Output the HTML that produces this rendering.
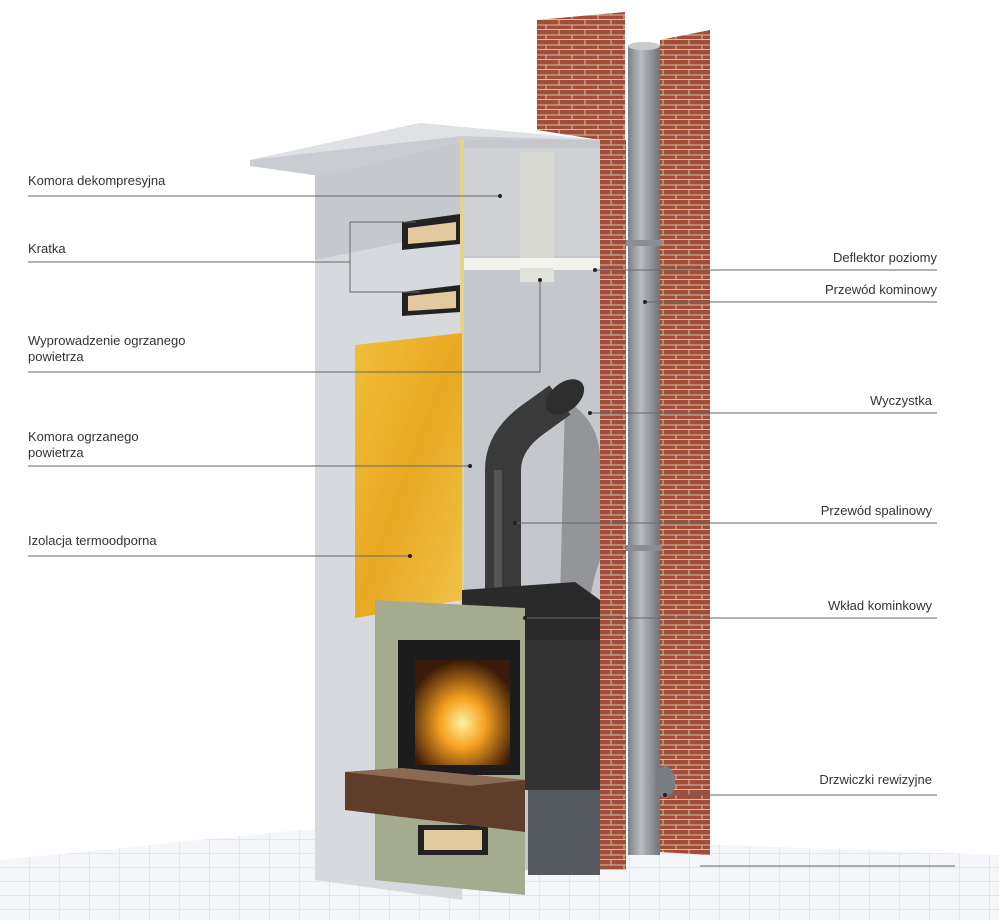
<!DOCTYPE html>
<html><head><meta charset="utf-8"><style>
body{margin:0;background:#fff;}
svg{display:block}
text{font-family:"Liberation Sans",sans-serif;font-size:13px;fill:#333}
</style></head><body>
<svg width="999" height="920" viewBox="0 0 999 920" xmlns="http://www.w3.org/2000/svg">
<defs>
<pattern id="brick" width="26" height="10" patternUnits="userSpaceOnUse">
<rect width="26" height="10" fill="#a04e38"/>
<path d="M0 9.5H26M13 0V5M0 5H26M0 5V10M26 5V10" stroke="#d4bfae" stroke-width="1" fill="none"/>
</pattern>
<pattern id="tile" width="30" height="14" patternUnits="userSpaceOnUse">
<rect width="30" height="14" fill="#f4f6f9"/>
<path d="M0 13.5H30M29.5 0V14" stroke="#e2e7ed" fill="none"/>
</pattern>
<linearGradient id="pipe" x1="0" x2="1"><stop offset="0" stop-color="#7c8185"/><stop offset=".4" stop-color="#b8bcc0"/><stop offset="1" stop-color="#6f7377"/></linearGradient>
<linearGradient id="yel" x1="0" y1="0" x2="1" y2="1"><stop offset="0" stop-color="#f2bf3a"/><stop offset=".5" stop-color="#e8a822"/><stop offset="1" stop-color="#f0c34a"/></linearGradient>
<radialGradient id="fire" cx=".5" cy=".6" r=".6"><stop offset="0" stop-color="#fff2a0"/><stop offset=".4" stop-color="#f5a020"/><stop offset="1" stop-color="#3a1a08"/></radialGradient>
</defs>
<polygon points="0,860 300,830 999,855 999,920 0,920" fill="url(#tile)"/>
<polygon points="315,170 462,142 462,900 315,880" fill="#d6d9de"/>
<polygon points="315,170 462,142 462,230 315,260" fill="#b9bcc2" opacity=".6"/>
<polygon points="250,160 420,123 600,140 600,152 462,142 320,176 250,166" fill="#c9ccd1"/>
<polygon points="250,160 420,123 600,140 462,136" fill="#dfe1e5"/>
<rect x="460" y="140" width="145" height="730" fill="#c4c7cb"/>
<rect x="462" y="148" width="140" height="108" fill="#cfd1d4"/>
<rect x="460" y="258" width="145" height="12" fill="#f4f4ee"/>
<rect x="460" y="140" width="4" height="730" fill="#e8d28a"/>
<path d="M565 400 Q600 420 600 460 L600 560 Q585 600 590 640 L560 600 Z" fill="#4a4a4a" opacity=".4"/>
<rect x="520" y="152" width="34" height="106" fill="#d9d9d4"/>
<rect x="520" y="268" width="34" height="14" fill="#e2e2dc"/>
<g><polygon points="402,222 460,214 460,244 402,250" fill="#222"/><polygon points="408,228 456,222 456,240 408,244" fill="#e3c99e"/></g>
<g><polygon points="402,292 460,285 460,312 402,316" fill="#222"/><polygon points="408,296 456,291 456,308 408,311" fill="#e3c99e"/></g>
<polygon points="355,345 462,333 462,600 355,618" fill="url(#yel)"/>
<polygon points="537,20 625,12 625,140 600,140 537,130" fill="url(#brick)"/>
<rect x="600" y="140" width="26" height="730" fill="url(#brick)"/>
<polygon points="660,40 710,30 710,855 660,852" fill="url(#brick)"/>
<rect x="628" y="45" width="32" height="810" fill="url(#pipe)"/>
<ellipse cx="644" cy="46" rx="16" ry="4" fill="#c7cbce"/>
<rect x="626" y="240" width="36" height="6" fill="#8a8e92"/>
<rect x="626" y="545" width="36" height="6" fill="#8a8e92"/>
<ellipse cx="665" cy="782" rx="10" ry="16" fill="#7a7e82"/>
<!-- stove pipe -->
<path d="M503 595 V470 Q503 440 535 418 L560 400" stroke="#3a3a3a" stroke-width="36" fill="none"/>
<path d="M498 595 V470" stroke="#555" stroke-width="8" fill="none"/>
<ellipse cx="565" cy="397" rx="22" ry="14" transform="rotate(-40 565 397)" fill="#2e2e2e"/>
<polygon points="462,590 575,582 600,600 600,790 462,790" fill="#2a2a2a"/>
<rect x="520" y="640" width="80" height="150" fill="#333"/>
<polygon points="375,600 525,608 525,895 375,880" fill="#a5ab8e"/>
<rect x="398" y="640" width="122" height="135" fill="#1c1c1c"/>
<rect x="415" y="660" width="95" height="105" fill="url(#fire)"/>
<rect x="418" y="825" width="70" height="30" fill="#222"/>
<rect x="424" y="830" width="58" height="20" fill="#e3c99e"/>
<polygon points="345,772 402,768 525,780 525,832 345,810" fill="#5e3d2a"/>
<polygon points="345,772 402,768 525,780 470,786" fill="#8a6a52"/>
<rect x="528" y="790" width="72" height="85" fill="#555a60"/>
<g stroke="#666" stroke-width="1" fill="none">
<path d="M28 196H500"/>
<path d="M28 262H350M350 222V292H420M350 222H418"/>
<path d="M28 372H540V280"/>
<path d="M28 466H470"/>
<path d="M28 556H410"/>
<path d="M595 270H937"/>
<path d="M645 302H937"/>
<path d="M590 413H937"/>
<path d="M515 523H937"/>
<path d="M525 618H937"/>
<path d="M665 795H937"/>
<path d="M700 866H955"/>
</g>
<g fill="#222">
<circle cx="500" cy="196" r="2"/><circle cx="418" cy="222" r="2"/><circle cx="540" cy="280" r="2"/><circle cx="470" cy="466" r="2"/><circle cx="410" cy="556" r="2"/><circle cx="595" cy="270" r="2"/><circle cx="645" cy="302" r="2"/><circle cx="590" cy="413" r="2"/><circle cx="515" cy="523" r="2"/><circle cx="525" cy="618" r="2"/><circle cx="665" cy="795" r="2"/>
</g>
<text x="28" y="185">Komora dekompresyjna</text>
<text x="28" y="253">Kratka</text>
<text x="28" y="345">Wyprowadzenie ogrzanego</text>
<text x="28" y="361">powietrza</text>
<text x="28" y="441">Komora ogrzanego</text>
<text x="28" y="457">powietrza</text>
<text x="28" y="545">Izolacja termoodporna</text>
<text x="937" y="262" text-anchor="end">Deflektor poziomy</text>
<text x="937" y="294" text-anchor="end">Przewód kominowy</text>
<text x="932" y="405" text-anchor="end">Wyczystka</text>
<text x="932" y="515" text-anchor="end">Przewód spalinowy</text>
<text x="932" y="610" text-anchor="end">Wkład kominkowy</text>
<text x="932" y="784" text-anchor="end">Drzwiczki rewizyjne</text>
</svg>
</body></html>
